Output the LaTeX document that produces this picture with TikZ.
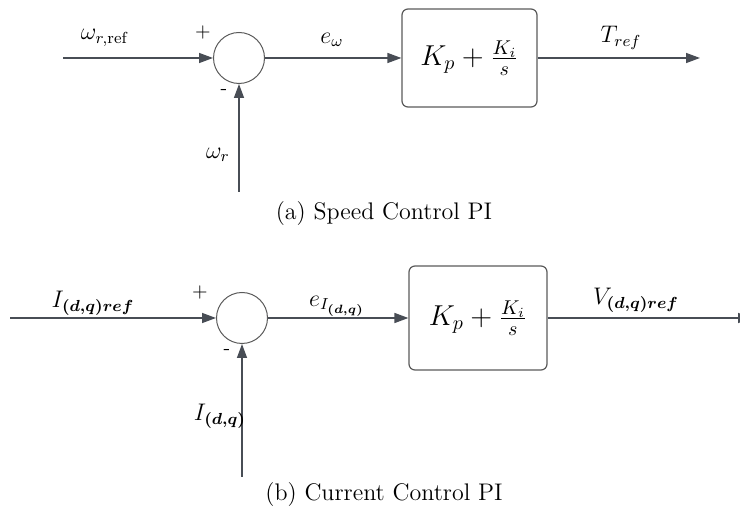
\documentclass[tikz,border=0pt]{standalone}
\usepackage{bm}
\usetikzlibrary{arrows.meta}
\definecolor{linie}{HTML}{484D55}
\definecolor{rahmen}{HTML}{5A5A5A}
\begin{document}
\begin{tikzpicture}[x=0.5pt, y=-0.5pt,
  every node/.style={font=\fontsize{12}{14}\selectfont, inner sep=0pt},
  summe/.style={circle, draw=rahmen, line width=0.5pt, minimum size=25.5pt},
  regler/.style={draw=rahmen, rounded corners=3pt, line width=0.6pt, font=\fontsize{14}{17}\selectfont},
  signal/.style={draw=linie, line width=0.7pt, -{Triangle[length=7pt, width=5pt]}},
  zeichen/.style={font=\sffamily\fontsize{10}{12}\selectfont}]
  \useasboundingbox (0,0) rectangle (740,517);
  \clip (0,0) rectangle (740,517);
  % (a) Drehzahlregler
  \node[summe] (suma) at (239,58) {};
  \node[regler, minimum width=67.5pt, minimum height=49pt] (pia) at (469.5,58) {$K_p+\frac{K_i}{s}$};
  \coordinate (ina) at (63,58);
  \coordinate (fba) at (239,192);
  \coordinate (outa) at (700,58);
  \draw[signal] (ina) -- (suma);
  \draw[signal] (fba) -- (suma);
  \draw[signal] (suma) -- (pia);
  \draw[signal] (pia) -- (outa);
  % Beschriftung (a)
  \node (wrefa) at (105,38) {$\omega_{r,\mathrm{ref}}$};
  \node (wra) at (218,155) {$\omega_r$};
  \node (ea) at (332,40) {$e_\omega$};
  \node (trefa) at (621,38) {$T_{ref}$};
  \node[zeichen] (plusa) at (203,33) {+};
  \node[zeichen] (minusa) at (224,92) {-};
  \node (capa) at (384,214) {(a) Speed Control PI};
  % (b) Stromregler
  \node[summe] (sumb) at (242,318) {};
  \node[regler, minimum width=69pt, minimum height=52pt] (pib) at (478,318) {$K_p+\frac{K_i}{s}$};
  \coordinate (inb) at (10,318);
  \coordinate (fbb) at (242,477);
  \coordinate (outb) at (752,318);
  \draw[signal] (inb) -- (sumb);
  \draw[signal] (fbb) -- (sumb);
  \draw[signal] (sumb) -- (pib);
  \draw[signal] (pib) -- (outb);
  % Beschriftung (b)
  \node (irefb) at (93,303) {$I_{\bm{(d,q)ref}}$};
  \node (ib) at (220,416) {$I_{\bm{(d,q)}}$};
  \node (eb) at (337,306) {$e_{I_{\bm{(d,q)}}}$};
  \node (vrefb) at (636,300) {$V_{\bm{(d,q)ref}}$};
  \node[zeichen] (plusb) at (200,293) {+};
  \node[zeichen] (minusb) at (227,352) {-};
  \node (capb) at (384,495) {(b) Current Control PI};
\end{tikzpicture}
\end{document}
